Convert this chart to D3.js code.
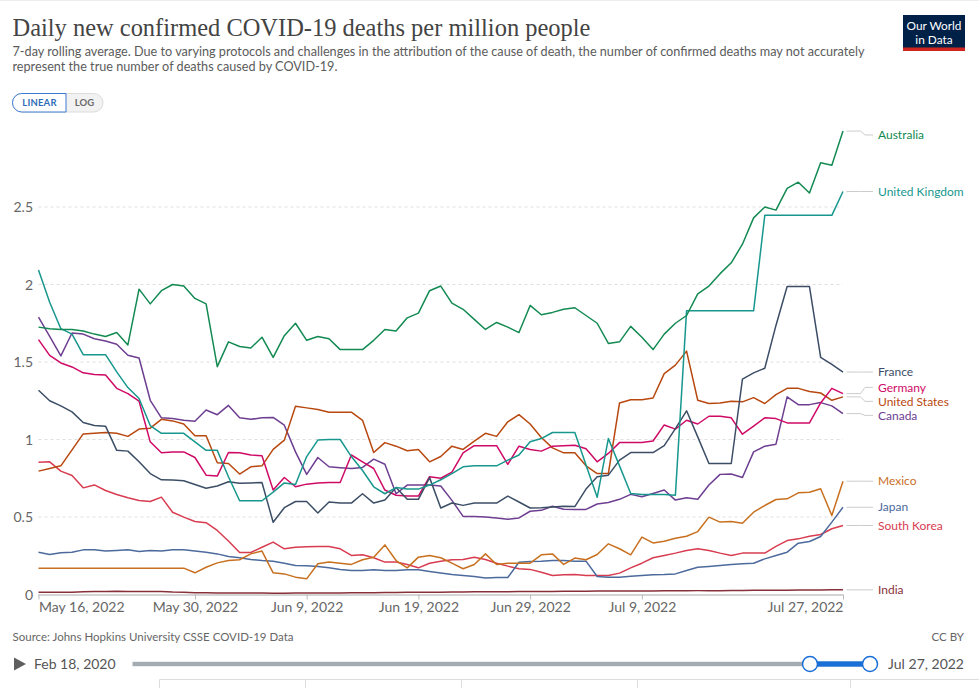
<!DOCTYPE html>
<html><head><meta charset="utf-8">
<script src="https://cdn.jsdelivr.net/npm/d3@7"></script>
<style>
body{margin:0;background:#fff;}
svg{display:block;font-family:Lato, "Noto Sans", sans-serif;}
</style></head><body>
<svg id="c" width="979" height="688"></svg>
<script>
// ---------- DATA ----------
const startDay = new Date(2022, 4, 16);
const endDay = new Date(2022, 6, 27);
const dates = d3.timeDay.range(startDay, d3.timeDay.offset(endDay, 1));
const xTickDates = [new Date(2022,4,16), new Date(2022,4,30), new Date(2022,5,9), new Date(2022,5,19), new Date(2022,5,29), new Date(2022,6,9), new Date(2022,6,27)];
const yTicks = [0, 0.5, 1, 1.5, 2, 2.5];

const australia = [1.725,1.715,1.71,1.71,1.70,1.68,1.665,1.69,1.61,1.97,1.875,1.96,2.0,1.99,1.91,1.875,1.47,1.63,1.60,1.59,1.66,1.53,1.67,1.75,1.64,1.665,1.65,1.58,1.58,1.58,1.64,1.71,1.70,1.785,1.815,1.96,1.99,1.88,1.84,1.775,1.71,1.755,1.725,1.69,1.865,1.805,1.82,1.84,1.85,1.80,1.75,1.62,1.63,1.73,1.66,1.58,1.68,1.75,1.80,1.94,1.99,2.07,2.14,2.26,2.43,2.50,2.48,2.62,2.66,2.59,2.785,2.77,2.99];
const unitedKingdom = [2.094,1.886,1.715,1.68,1.547,1.547,1.547,1.436,1.335,1.264,1.09,1.04,1.04,1.04,0.985,0.93,0.93,0.76,0.605,0.605,0.605,0.66,0.72,0.71,0.89,0.996,1.0,1.0,0.89,0.80,0.695,0.65,0.69,0.68,0.68,0.706,0.74,0.78,0.824,0.83,0.83,0.83,0.867,0.90,0.985,1.006,1.045,1.045,1.045,0.835,0.627,1.006,0.83,0.652,0.645,0.645,0.645,0.64,1.83,1.83,1.83,1.83,1.83,1.83,1.83,2.446,2.446,2.446,2.446,2.446,2.446,2.446,2.60];
const france = [1.318,1.25,1.217,1.178,1.11,1.09,1.086,0.93,0.925,0.856,0.78,0.74,0.738,0.734,0.71,0.685,0.70,0.727,0.717,0.72,0.723,0.466,0.56,0.60,0.60,0.526,0.597,0.59,0.59,0.65,0.59,0.61,0.69,0.614,0.614,0.754,0.558,0.59,0.575,0.59,0.59,0.59,0.635,0.597,0.558,0.56,0.565,0.57,0.567,0.68,0.76,0.77,0.867,0.916,0.916,0.916,0.96,1.07,1.185,1.017,0.845,0.845,0.845,1.39,1.43,1.46,1.736,1.987,1.987,1.987,1.53,1.485,1.435];
const germany = [1.644,1.543,1.494,1.468,1.43,1.42,1.416,1.33,1.296,1.247,0.985,0.914,0.92,0.92,0.884,0.77,0.764,0.916,0.914,0.90,0.895,0.674,0.755,0.695,0.712,0.72,0.723,0.723,0.90,0.856,0.813,0.674,0.64,0.635,0.635,0.76,0.75,0.79,0.914,0.96,0.96,0.96,0.84,0.957,0.936,0.925,0.957,0.96,0.963,0.94,0.856,0.91,0.98,0.98,0.98,0.99,1.094,1.067,1.124,1.10,1.15,1.15,1.14,1.034,1.086,1.14,1.135,1.107,1.107,1.107,1.236,1.33,1.296];
const unitedStates = [0.796,0.813,0.83,0.933,1.036,1.04,1.045,1.04,1.02,1.067,1.073,1.13,1.12,1.10,1.024,1.024,0.85,0.845,0.777,0.824,0.83,0.936,0.996,1.215,1.204,1.193,1.176,1.176,1.176,1.124,0.916,0.98,0.957,0.927,0.936,0.856,0.89,0.957,0.936,0.99,1.04,1.02,1.114,1.16,1.10,1.013,0.946,0.914,0.914,0.83,0.78,0.78,1.236,1.257,1.257,1.268,1.425,1.48,1.57,1.253,1.232,1.236,1.247,1.243,1.27,1.232,1.29,1.33,1.33,1.31,1.30,1.253,1.275];
const canada = [1.79,1.665,1.54,1.687,1.68,1.65,1.635,1.614,1.543,1.526,1.253,1.14,1.135,1.124,1.118,1.19,1.16,1.22,1.14,1.13,1.14,1.142,1.092,0.92,0.775,0.884,0.824,0.818,0.813,0.82,0.873,0.84,0.65,0.706,0.706,0.706,0.70,0.607,0.504,0.504,0.50,0.494,0.485,0.494,0.537,0.543,0.569,0.55,0.549,0.549,0.584,0.594,0.614,0.646,0.631,0.652,0.674,0.609,0.624,0.614,0.706,0.775,0.777,0.755,0.92,0.957,0.97,1.275,1.225,1.225,1.238,1.217,1.167];
const mexico = [0.17,0.17,0.17,0.17,0.17,0.17,0.17,0.17,0.17,0.17,0.17,0.17,0.17,0.17,0.14,0.176,0.204,0.219,0.224,0.262,0.28,0.14,0.133,0.112,0.101,0.198,0.209,0.202,0.194,0.224,0.241,0.32,0.219,0.172,0.241,0.252,0.237,0.202,0.166,0.194,0.262,0.194,0.202,0.202,0.202,0.256,0.262,0.194,0.235,0.224,0.258,0.327,0.295,0.256,0.37,0.333,0.344,0.363,0.376,0.406,0.499,0.467,0.471,0.46,0.531,0.574,0.613,0.617,0.656,0.66,0.682,0.51,0.731];
const japan = [0.273,0.258,0.269,0.273,0.288,0.288,0.28,0.284,0.288,0.277,0.284,0.28,0.288,0.288,0.28,0.273,0.262,0.245,0.237,0.226,0.219,0.215,0.202,0.187,0.185,0.181,0.172,0.161,0.155,0.155,0.159,0.155,0.155,0.159,0.159,0.148,0.138,0.129,0.123,0.116,0.107,0.11,0.11,0.208,0.213,0.215,0.219,0.219,0.215,0.215,0.116,0.112,0.112,0.118,0.123,0.127,0.129,0.133,0.155,0.176,0.181,0.187,0.194,0.198,0.202,0.23,0.252,0.273,0.331,0.342,0.374,0.467,0.563];
const southKorea = [0.854,0.856,0.796,0.768,0.688,0.707,0.671,0.645,0.624,0.606,0.60,0.628,0.531,0.499,0.471,0.463,0.413,0.345,0.271,0.271,0.305,0.338,0.295,0.305,0.308,0.31,0.31,0.295,0.252,0.256,0.237,0.209,0.209,0.194,0.172,0.202,0.215,0.224,0.226,0.241,0.226,0.202,0.183,0.166,0.162,0.144,0.123,0.127,0.129,0.123,0.123,0.123,0.138,0.172,0.202,0.237,0.252,0.267,0.284,0.295,0.284,0.267,0.252,0.267,0.267,0.267,0.31,0.348,0.359,0.376,0.387,0.424,0.445];
const india = [0.015,0.015,0.014,0.015,0.017,0.02,0.02,0.021,0.02,0.02,0.019,0.02,0.016,0.014,0.012,0.011,0.01,0.01,0.009,0.009,0.009,0.008,0.008,0.009,0.009,0.009,0.01,0.01,0.011,0.012,0.012,0.013,0.013,0.014,0.014,0.015,0.015,0.016,0.016,0.017,0.017,0.018,0.018,0.019,0.019,0.02,0.02,0.021,0.021,0.021,0.022,0.022,0.022,0.023,0.023,0.023,0.024,0.024,0.024,0.025,0.025,0.025,0.026,0.026,0.027,0.027,0.028,0.028,0.029,0.029,0.029,0.03,0.03];

const seriesNames = ["India","South Korea","Japan","Mexico","Canada","United States","Germany","France","United Kingdom","Australia"];
const seriesValues = [india, southKorea, japan, mexico, canada, unitedStates, germany, france, unitedKingdom, australia];
const seriesColors = ["#883039","#D73C50","#4C6A9C","#C8701F","#6D3E91","#B8480F","#CF0A66","#3C4E66","#17978E","#128A52"];

// ---------- CHART ----------
const svg = d3.select("#c");
const W = 979, H = 688;
const x = d3.scaleTime().domain([startDay, endDay]).range([38.5, 843]);
const y = d3.scaleLinear().domain([0, 3]).range([594.5, 129.5]);

svg.append("line").attr("x1",0).attr("x2",W).attr("y1",0.5).attr("y2",0.5).attr("stroke","#eee");

function fit(sel, target){
  let fs = parseFloat(sel.attr("font-size"));
  const w = sel.node().getComputedTextLength();
  if (w > 0) sel.attr("font-size", (fs * target / w).toFixed(2));
  return sel;
}

// Title
const title = svg.append("text").attr("x", 12.5).attr("y", 36)
  .attr("font-family", "'Liberation Serif', 'DejaVu Serif', serif")
  .attr("font-size", 25).attr("fill", "#444")
  .text("Daily new confirmed COVID-19 deaths per million people");
fit(title, 578);

const sub1 = svg.append("text").attr("x", 12.5).attr("y", 56).attr("font-size", 13).attr("fill", "#5b5b5b")
  .text("7-day rolling average. Due to varying protocols and challenges in the attribution of the cause of death, the number of confirmed deaths may not accurately");
fit(sub1, 853);
svg.append("text").attr("x", 12.5).attr("y", 71).attr("font-size", sub1.attr("font-size")).attr("fill", "#5b5b5b")
  .text("represent the true number of deaths caused by COVID-19.");

// Logo
const logo = svg.append("g");
logo.append("rect").attr("x", 903).attr("y", 15).attr("width", 62).attr("height", 36).attr("fill", "#002147");
logo.append("rect").attr("x", 903).attr("y", 47.5).attr("width", 62).attr("height", 3.5).attr("fill", "#ce261e");
const l1 = logo.append("text").attr("x", 934).attr("y", 30).attr("text-anchor","middle").attr("font-size", 13).attr("fill","#fff").text("Our World");
fit(l1, 55);
logo.append("text").attr("x", 934).attr("y", 43.5).attr("text-anchor","middle").attr("font-size", l1.attr("font-size")).attr("fill","#fff").text("in Data");

// LINEAR / LOG toggle
const tg = svg.append("g");
tg.append("rect").attr("x", 12.5).attr("y", 93.5).attr("width", 90.5).attr("height", 18.5).attr("rx", 9.25)
  .attr("fill", "#f2f2f2").attr("stroke", "#dcdcdc");
tg.append("path").attr("d", "M66,93.5 H21.75 A9.25,9.25 0 0 0 21.75,112 H66 Z")
  .attr("fill", "#fff").attr("stroke", "#3b7bd1").attr("stroke-width", 1);
tg.append("text").attr("x", 39.5).attr("y", 106.3).attr("text-anchor","middle").attr("font-size", 9.5).attr("font-weight", 700)
  .attr("fill", "#2f6db8").attr("letter-spacing", 0.2).text("LINEAR");
tg.append("text").attr("x", 84.5).attr("y", 106.3).attr("text-anchor","middle").attr("font-size", 9.5).attr("font-weight", 700)
  .attr("fill", "#6a6a6a").text("LOG");

// Gridlines + y labels
const grid = svg.append("g");
yTicks.filter(d => d > 0).forEach(t => {
  grid.append("line").attr("x1", 38.5).attr("x2", 843).attr("y1", y(t)).attr("y2", y(t))
    .attr("stroke", "#dedede").attr("stroke-dasharray", "3,3");
});
const yAxis = d3.axisLeft(y).tickValues(yTicks).tickSize(0).tickPadding(0).tickFormat(d3.format("~g"));
const yg = svg.append("g").attr("transform", "translate(33,0)").call(yAxis);
yg.select(".domain").remove();
yg.selectAll("text").attr("font-size", 14).attr("fill", "#666").attr("font-family", "Lato, sans-serif").attr("dy", "0.34em");

// X axis
const xAxis = d3.axisBottom(x).tickValues(xTickDates).tickSize(5).tickPadding(0).tickFormat(d3.timeFormat("%b %-d, %Y"));
const xg = svg.append("g").attr("transform", `translate(0,${y(0)})`).call(xAxis);
xg.select(".domain").attr("stroke", "#aaa").attr("d", `M38.5,0.5H843`);
xg.selectAll(".tick line").attr("stroke", "#bbb");
xg.selectAll("text").attr("font-size", 14).attr("fill", "#666").attr("font-family", "Lato, sans-serif").attr("y", 17.5).attr("dy", 0);
xg.selectAll(".tick text").each(function(d, i){
  const t = d3.select(this);
  if (i === 0) t.attr("text-anchor", "start");
  if (i === xTickDates.length - 1) t.attr("text-anchor", "end");
});

// Lines
const line = d3.line().x((d, i) => x(dates[i])).y(d => y(d));
const lg = svg.append("g");
seriesValues.forEach((vals, k) => {
  lg.append("path").datum(vals).attr("d", line).attr("fill", "none")
    .attr("stroke", seriesColors[k]).attr("stroke-width", 1.5).attr("stroke-linejoin", "round");
});

// Label layout
const gap = 14;
let nodes = seriesNames.map((n, k) => ({ name: n, color: seriesColors[k], target: y(seriesValues[k][seriesValues[k].length - 1]) }));
nodes.sort((a, b) => a.target - b.target);
let clusters = nodes.map(n => ({ nodes: [n] }));
const center = c => d3.mean(c.nodes, n => n.target);
let changed = true;
while (changed) {
  changed = false;
  for (let i = 1; i < clusters.length; i++) {
    const a = clusters[i - 1], b = clusters[i];
    const aBottom = center(a) + (a.nodes.length - 1) * gap / 2;
    const bTop = center(b) - (b.nodes.length - 1) * gap / 2;
    if (bTop - aBottom < gap) {
      clusters.splice(i - 1, 2, { nodes: a.nodes.concat(b.nodes) });
      changed = true; break;
    }
  }
}
clusters.forEach(c => {
  const cc = center(c);
  c.nodes.forEach((n, j) => { n.ly = Math.max(135, cc + (j - (c.nodes.length - 1) / 2) * gap); });
});
const lab = svg.append("g");
nodes.forEach(n => {
  lab.append("path").attr("d", `M846.5,${n.target}H860.5L865,${n.ly}H873`).attr("fill", "none")
    .attr("stroke", "#ccc").attr("stroke-width", 1);
  lab.append("text").attr("x", 878).attr("y", n.ly).attr("dy", "0.35em").attr("font-size", 12)
    .attr("fill", n.color).text(n.name);
});

// Source / license
svg.append("text").attr("x", 12.5).attr("y", 641).attr("font-size", 11.5).attr("fill", "#666")
  .text("Source: Johns Hopkins University CSSE COVID-19 Data");
svg.append("text").attr("x", 964).attr("y", 641).attr("text-anchor", "end").attr("font-size", 11.5).attr("fill", "#666").text("CC BY");

// Timeline
const tl = svg.append("g");
tl.append("path").attr("d", "M14,657.5 L26,664 L14,670.5 Z").attr("fill", "#5f5f5f");
tl.append("text").attr("x", 34).attr("y", 669).attr("font-size", 14).attr("fill", "#555").text("Feb 18, 2020");
tl.append("rect").attr("x", 132.5).attr("y", 661.8).attr("width", 738).attr("height", 4.4).attr("fill", "#a5acb3");
tl.append("rect").attr("x", 810).attr("y", 661.3).attr("width", 60).attr("height", 5.4).attr("fill", "#1a6fd6");
[810, 870].forEach(cx => tl.append("circle").attr("cx", cx).attr("cy", 664).attr("r", 7.5)
  .attr("fill", "#fff").attr("stroke", "#1a6fd6").attr("stroke-width", 1.5));
tl.append("text").attr("x", 964).attr("y", 669).attr("text-anchor", "end").attr("font-size", 14).attr("fill", "#555").text("Jul 27, 2022");

// Bottom tab strip (partially visible)
const tb = svg.append("g");
tb.append("line").attr("x1", 159.5).attr("x2", W).attr("y1", 679.5).attr("y2", 679.5).attr("stroke", "#ddd");
[159.5, 305.5, 461.5, 637.5, 850.5].forEach(px => tb.append("line").attr("x1", px).attr("x2", px).attr("y1", 679.5).attr("y2", H).attr("stroke", "#ddd"));
</script>
</body></html>
